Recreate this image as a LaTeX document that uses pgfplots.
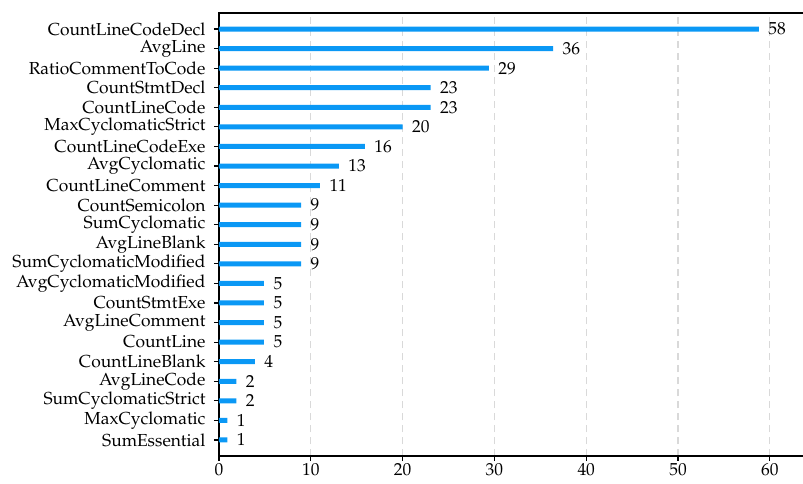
\documentclass[border=0pt]{standalone}
\usepackage[T1]{fontenc}
\usepackage{mathpazo}
\usepackage{pgfplots}
\pgfplotsset{compat=1.18}
\definecolor{barblue}{HTML}{0A98F5}
\pgfplotstableread{
y v l
0 0.9 1
1 0.9 1
2 1.9 2
3 1.9 2
4 3.9 4
5 4.9 5
6 4.9 5
7 4.9 5
8 4.9 5
9 8.95 9
10 8.95 9
11 8.95 9
12 8.95 9
13 11.0 11
14 13.05 13
15 15.9 16
16 20.0 20
17 23.05 23
18 23.05 23
19 29.4 29
20 36.4 36
21 58.8 58
}\datatable
\begin{document}
\begin{tikzpicture}
\begin{axis}[name=ax, at={(0,0)}, anchor=south west,
 scale only axis, width=600pt, height=443pt,
 xbar, bar width=5pt,
 xmin=0, xmax=65.36, ymin=-0.82, ymax=21.82,
 ytick={0,...,21},
 yticklabels={SumEssential,MaxCyclomatic,SumCyclomaticStrict,AvgLineCode,CountLineBlank,CountLine,AvgLineComment,CountStmtExe,AvgCyclomaticModified,SumCyclomaticModified,AvgLineBlank,SumCyclomatic,CountSemicolon,CountLineComment,AvgCyclomatic,CountLineCodeExe,MaxCyclomaticStrict,CountLineCode,CountStmtDecl,RatioCommentToCode,AvgLine,CountLineCodeDecl},
 xtick={0,10,...,60},
 xtick pos=bottom, ytick pos=left, tick align=outside,
 major tick length=5pt,
 tick style={black, line width=1.2pt},
 axis line style={black, line width=1.6pt},
 xmajorgrids, grid style={black!15, line width=1.2pt, dash pattern=on 7pt off 5pt},
 ticklabel style={font=\fontsize{17.4}{20}\selectfont},
 yticklabel style={xshift=-5pt},
 xticklabel style={yshift=1pt},
 nodes near coords, point meta=explicit symbolic,
 nodes near coords style={font=\fontsize{17.4}{20}\selectfont, black, anchor=west, xshift=6pt},
 clip=false]
\addplot[fill=barblue, draw=none] table[x=v,y=y,meta=l]{\datatable};
\end{axis}
\pgfresetboundingbox
\path[use as bounding box] (-219pt,-27pt) rectangle (584pt,456pt);
\end{tikzpicture}
\end{document}
